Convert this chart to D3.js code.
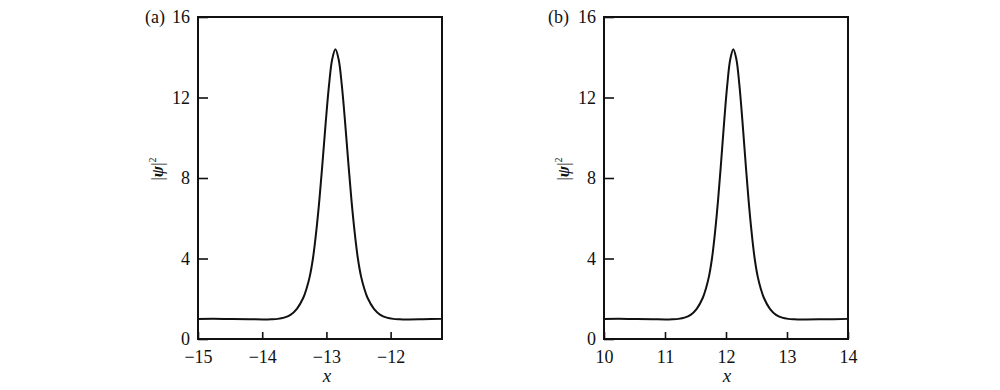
<!DOCTYPE html>
<html>
<head>
<meta charset="utf-8">
<script src="https://cdn.jsdelivr.net/npm/d3@7/dist/d3.min.js"></script>
<style>
  body { margin: 0; background: #fff; }
  svg text { font-family: "Liberation Serif", "Times New Roman", serif; fill: #111; }
</style>
</head>
<body>
<svg id="chart" width="1000" height="390"></svg>
<script>
// ---- Data ----
const xA = [-15.0, -14.6, -14.2, -13.96, -13.86, -13.76, -13.66, -13.56, -13.46, -13.36, -13.31, -13.26, -13.21, -13.16, -13.11, -13.06, -13.01, -12.96, -12.91, -12.86, -12.81, -12.76, -12.71, -12.66, -12.61, -12.56, -12.51, -12.46, -12.41, -12.36, -12.26, -12.16, -12.06, -11.96, -11.86, -11.76, -11.5, -11.2];
const yA = [1.0, 1.0, 0.98, 0.97, 0.98, 1.0, 1.06, 1.2, 1.5, 2.05, 2.5, 3.1, 4.0, 5.3, 6.9, 8.8, 10.8, 12.6, 13.9, 14.4, 13.9, 12.6, 10.8, 8.8, 6.9, 5.3, 4.0, 3.1, 2.5, 2.05, 1.5, 1.2, 1.06, 1.0, 0.98, 0.97, 0.98, 1.0];

const xB = [10.0, 10.4, 10.8, 11.02, 11.12, 11.22, 11.32, 11.42, 11.52, 11.62, 11.67, 11.72, 11.77, 11.82, 11.87, 11.92, 11.97, 12.02, 12.07, 12.12, 12.17, 12.22, 12.27, 12.32, 12.37, 12.42, 12.47, 12.52, 12.57, 12.62, 12.72, 12.82, 12.92, 13.02, 13.12, 13.22, 13.6, 14.0];
const yB = [1.0, 1.0, 0.98, 0.97, 0.98, 1.0, 1.06, 1.2, 1.5, 2.05, 2.5, 3.1, 4.0, 5.3, 6.9, 8.8, 10.8, 12.6, 13.9, 14.4, 13.9, 12.6, 10.8, 8.8, 6.9, 5.3, 4.0, 3.1, 2.5, 2.05, 1.5, 1.2, 1.06, 1.0, 0.98, 0.97, 0.98, 1.0];

const xTicksA = [-15, -14, -13, -12];
const xTicksB = [10, 11, 12, 13, 14];
const yTicks = [0, 4, 8, 12, 16];
const panelLabels = ["(a)", "(b)"];

// ---- Drawing ----
const svg = d3.select("#chart");
const FONT = "Liberation Serif, Times New Roman, serif";

const panels = [
  { xs: xA, ys: yA, xDomain: [-15, -11.2], xTicks: xTicksA, label: panelLabels[0],
    left: 198, right: 442, top: 17, bottom: 339, ylabX: 157, tagX: 145, xlabX: 327 },
  { xs: xB, ys: yB, xDomain: [10, 14], xTicks: xTicksB, label: panelLabels[1],
    left: 604, right: 848, top: 17, bottom: 339, ylabX: 563, tagX: 548, xlabX: 727 }
];

const fmt = d => (d < 0 ? "\u2212" + Math.abs(d) : String(d));

panels.forEach(p => {
  const x = d3.scaleLinear().domain(p.xDomain).range([p.left, p.right]);
  const y = d3.scaleLinear().domain([0, 16]).range([p.bottom, p.top]);
  const g = svg.append("g");

  // x axis (ticks inward)
  const xAxis = d3.axisBottom(x).tickValues(p.xTicks).tickSize(-7).tickPadding(11).tickFormat(fmt);
  const gx = g.append("g").attr("transform", `translate(0,${p.bottom})`).call(xAxis)
    .attr("font-family", FONT).attr("font-size", 18);
  gx.select(".domain").remove();
  gx.selectAll("line").attr("stroke", "#111").attr("stroke-width", 1.6);
  gx.selectAll("text").attr("dy", "0.71em").attr("fill", "#111");

  // y axis (ticks inward)
  const yAxis = d3.axisLeft(y).tickValues(yTicks).tickSize(-10).tickPadding(8).tickFormat(d => String(d));
  const gy = g.append("g").attr("transform", `translate(${p.left},0)`).call(yAxis)
    .attr("font-family", FONT).attr("font-size", 18);
  gy.select(".domain").remove();
  gy.selectAll("line").attr("stroke", "#111").attr("stroke-width", 1.6);
  gy.selectAll("text").attr("fill", "#111");

  // frame
  g.append("rect").attr("x", p.left).attr("y", p.top)
    .attr("width", p.right - p.left).attr("height", p.bottom - p.top)
    .attr("fill", "none").attr("stroke", "#111").attr("stroke-width", 2);

  // curve
  const data = p.xs.map((v, i) => [v, p.ys[i]]);
  const line = d3.line().x(d => x(d[0])).y(d => y(d[1])).curve(d3.curveCatmullRom.alpha(0.5));
  g.append("path").datum(data).attr("d", line)
    .attr("fill", "none").attr("stroke", "#111").attr("stroke-width", 2);

  // panel tag
  g.append("text").attr("x", p.tagX).attr("y", p.top).attr("dy", "0.32em")
    .attr("font-size", 18).text(p.label);

  // x label
  g.append("text").attr("x", p.xlabX).attr("y", 382)
    .attr("text-anchor", "middle")
    .attr("font-size", 19).attr("font-style", "italic").text("x");

  // y label |ψ|²
  const yl = g.append("text")
    .attr("transform", `translate(${p.ylabX + 6},169) rotate(-90)`)
    .attr("text-anchor", "middle").attr("font-size", 17);
  yl.append("tspan").text("|");
  yl.append("tspan").attr("font-style", "italic").attr("font-weight", "bold").text("\u03C8");
  yl.append("tspan").text("|");
  yl.append("tspan").attr("font-size", 10).attr("dy", "-0.7em").text("2");
});
</script>
</body>
</html>
